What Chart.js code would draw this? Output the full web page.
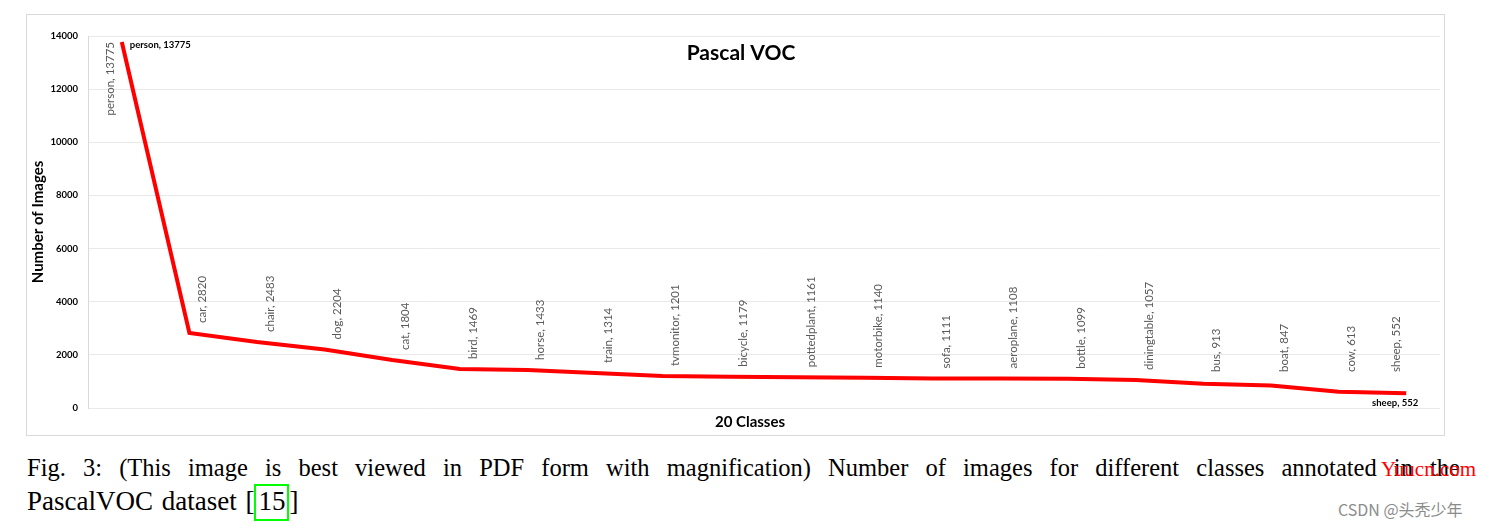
<!DOCTYPE html>
<html>
<head>
<meta charset="utf-8">
<script src="https://cdn.jsdelivr.net/npm/chart.js@4"></script>
<style>
  body { margin: 0; background: #fff; width: 1490px; height: 526px; overflow: hidden; position: relative; }
  #box { position: absolute; left: 26px; top: 14px; width: 1417px; height: 420px; border: 1px solid #d9d9d9; }
  .cap { position: absolute; left: 27px; font-family: "Liberation Serif", serif; line-height: 33px; color: #000; white-space: nowrap; }
  #cap1 { top: 451px; width: 1433px; font-size: 24.5px; text-align: justify; text-align-last: justify; }
  #cap2 { top: 485px; font-size: 27px; word-spacing: 2px; }
  #cap2 .ref { border: 2px solid #00ff00; padding: 0 2px 3px 2px; }
  #wm1 { position: absolute; left: 1381px; top: 457px; font-family: "Liberation Serif", serif; font-size: 21px; color: #ff0000; }
  #wm2 { position: absolute; left: 1338px; top: 497px; font-family: "Noto Sans CJK SC", "Noto Sans", sans-serif; font-size: 16px; color: #8c8c8c; }
</style>
</head>
<body>
<div id="box"><canvas id="vocChart" width="1417" height="420"></canvas></div>
<div class="cap" id="cap1">Fig. 3: (This image is best viewed in PDF form with magnification) Number of images for different classes annotated in the</div>
<div class="cap" id="cap2">PascalVOC dataset [<span class="ref">15</span>]</div>
<div id="wm1">Yuucn.com</div>
<div id="wm2">CSDN @头秃少年</div>

<script>
// data
const classes = ['person', 'car', 'chair', 'dog', 'cat', 'bird', 'horse', 'train', 'tvmonitor', 'bicycle',
  'pottedplant', 'motorbike', 'sofa', 'aeroplane', 'bottle', 'diningtable', 'bus', 'boat', 'cow', 'sheep'];
const imageCounts = [13775, 2820, 2483, 2204, 1804, 1469, 1433, 1314, 1201, 1179,
  1161, 1140, 1111, 1108, 1099, 1057, 913, 847, 613, 552];
const yTicks = [0, 2000, 4000, 6000, 8000, 10000, 12000, 14000];

const FONT = 'Lato, "Open Sans", sans-serif';

// draws the title, axis titles and the per-point labels
const labelPlugin = {
  id: 'vocLabels',
  afterDatasetsDraw(chart) {
    const ctx = chart.ctx;
    const area = chart.chartArea;
    const pts = chart.getDatasetMeta(0).data;
    ctx.save();

    // chart title inside the plot area
    ctx.fillStyle = '#000';
    ctx.font = 'bold 21px ' + FONT;
    ctx.textAlign = 'center';
    ctx.textBaseline = 'middle';
    ctx.fillText('Pascal VOC', (area.left + area.right) / 2 - 23, area.top + 17);

    // axis titles
    ctx.font = 'bold 15px ' + FONT;
    ctx.fillText('20 Classes', (area.left + area.right) / 2 - 14, area.bottom + 14);
    ctx.save();
    ctx.translate(11, (area.top + area.bottom) / 2);
    ctx.rotate(-Math.PI / 2);
    ctx.fillText('Number of Images', 0, 0);
    ctx.restore();

    // rotated grey labels
    ctx.fillStyle = '#595959';
    ctx.font = '11.5px ' + FONT;
    ctx.textBaseline = 'middle';
    pts.forEach((p, i) => {
      const text = classes[i] + ', ' + imageCounts[i];
      ctx.save();
      if (i === 0) {
        ctx.translate(p.x - 12, p.y);
        ctx.rotate(-Math.PI / 2);
        ctx.textAlign = 'right';
      } else {
        const bottom = Math.min(p.y - 10, area.bottom - 36);
        const dx = i === pts.length - 1 ? -10 : 13;
        ctx.translate(p.x + dx, bottom);
        ctx.rotate(-Math.PI / 2);
        ctx.textAlign = 'left';
      }
      ctx.fillText(text, 0, 0);
      ctx.restore();
    });

    // bold labels at first and last points
    ctx.fillStyle = '#000';
    ctx.font = 'bold 9.5px ' + FONT;
    const first = pts[0], last = pts[pts.length - 1];
    ctx.textAlign = 'left';
    ctx.fillText(classes[0] + ', ' + imageCounts[0], first.x + 8, first.y + 3);
    ctx.textAlign = 'right';
    ctx.fillText(classes[classes.length - 1] + ', ' + imageCounts[imageCounts.length - 1], last.x + 12, last.y + 10);

    ctx.restore();
  }
};

const ctx = document.getElementById('vocChart').getContext('2d');
new Chart(ctx, {
  type: 'line',
  data: {
    labels: classes,
    datasets: [{
      label: 'Number of Images',
      data: imageCounts,
      borderColor: '#ff0000',
      borderWidth: 4,
      pointRadius: 0,
      tension: 0,
      fill: false
    }]
  },
  options: {
    responsive: false,
    maintainAspectRatio: false,
    animation: false,
    layout: { padding: { top: 21, right: 4, left: 0, bottom: 0 } },
    plugins: {
      legend: { display: false },
      title: { display: false },
      tooltip: { enabled: false }
    },
    scales: {
      x: {
        offset: true,
        grid: { display: false },
        border: { display: false },
        ticks: { display: false },
        afterFit(scale) { scale.height = 27; }
      },
      y: {
        min: 0,
        max: 14000,
        afterBuildTicks(scale) { scale.ticks = yTicks.map(v => ({ value: v })); },
        grid: { color: '#e9e9e9', lineWidth: 1, drawTicks: false },
        border: { display: true, color: '#d9d9d9' },
        ticks: {
          padding: 10,
          color: '#000',
          font: { family: FONT, size: 9.5, weight: 'bold' },
          callback: value => String(value)
        },
        afterFit(scale) { scale.width = 61; }
      }
    }
  },
  plugins: [labelPlugin]
});
</script>
</body>
</html>
